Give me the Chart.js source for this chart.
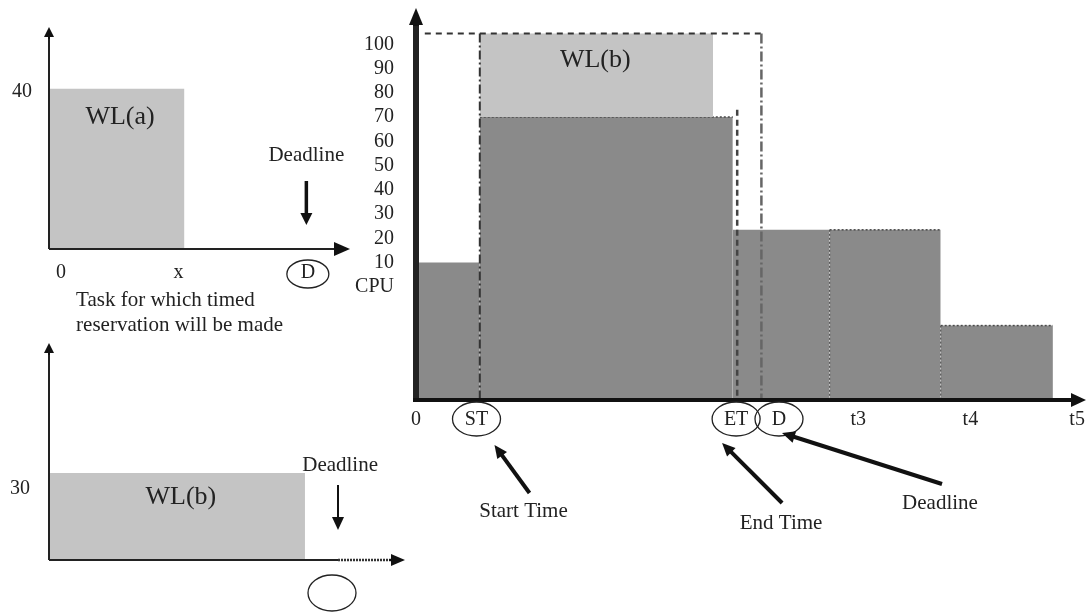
<!DOCTYPE html>
<html>
<head>
<meta charset="utf-8">
<script src="https://cdn.jsdelivr.net/npm/chart.js@4.4.1/dist/chart.umd.min.js"></script>
<style>
  html, body { margin: 0; padding: 0; background: #fff; overflow: hidden; }
  #page { position: relative; width: 1087px; height: 612px; }
  canvas { position: absolute; }
</style>
</head>
<body>
<div id="page">
  <canvas id="chartA" width="370" height="340" style="left:0;top:0"></canvas>
  <canvas id="chartB" width="420" height="282" style="left:0;top:330px"></canvas>
  <canvas id="chartMain" width="747" height="612" style="left:340px;top:0"></canvas>
</div>
<script>
// ---- main chart: CPU reservation over time ----
const timeTicks = [0, 5.5, 29.1, 33.0, 40.2, 50.4, 60.1];
const timeTickLabels = ["0", "ST", "ET", "D", "t3", "t4", "t5"];
const cpuTicks = [0, 10, 20, 30, 40, 50, 60, 70, 80, 90, 100];
const cpuTickLabels = ["CPU", "10", "20", "30", "40", "50", "60", "70", "80", "90", "100"];
const blockStart = [0, 5.8, 28.8, 37.6, 47.7];
const blockEnd = [5.8, 28.8, 37.6, 47.7, 57.9];
const blockCpu = [10, 70, 23.5, 23.5, -16];
const wlbRange = [5.8, 27.0];
const wlbCpu = [70, 104.5];      // base, top
const startTime = 5.8;
const endTime = 29.2;
const endTimeTop = 73;
const deadline = 31.4;

// ---- WL(a) small chart ----
const aTicks = [0.4, 4.3, 8.6];
const aTickLabels = ["0", "x", "D"];
const aCpuTicks = [40];
const aRange = [0, 4.5];
const aCpu = 40.8;
const aDeadline = 8.55;

// ---- WL(b) small chart ----
const bTicks = [9.42];
const bTickLabels = [""];
const bCpuTicks = [30];
const bRange = [0, 8.52];
const bCpu = 36.8;
const bDeadline = 9.62;

const FONT = "Liberation Serif";
const INK = "#222";
const DARK = "#8a8a8a";
const LIGHT = "#c4c4c4";
const NONE = "rgba(0,0,0,0)";

function line(ctx, x1, y1, x2, y2, w, color, dash) {
    ctx.save();
    ctx.strokeStyle = color;
    ctx.lineWidth = w;
    ctx.setLineDash(dash || []);
    ctx.beginPath();
    ctx.moveTo(x1, y1);
    ctx.lineTo(x2, y2);
    ctx.stroke();
    ctx.restore();
}

function arrow(ctx, x1, y1, x2, y2, w, len, half) {
    let a = Math.atan2(y2 - y1, x2 - x1);
    let c = Math.cos(a), s = Math.sin(a);
    line(ctx, x1, y1, x2 - c * len * 0.7, y2 - s * len * 0.7, w, "#111");
    ctx.save();
    ctx.fillStyle = "#111";
    ctx.beginPath();
    ctx.moveTo(x2, y2);
    ctx.lineTo(x2 - len * c + half * s, y2 - len * s - half * c);
    ctx.lineTo(x2 - len * c - half * s, y2 - len * s + half * c);
    ctx.closePath();
    ctx.fill();
    ctx.restore();
}

function ellipse(ctx, x, y, rx, ry) {
    ctx.save();
    ctx.strokeStyle = INK;
    ctx.lineWidth = 1.3;
    ctx.beginPath();
    ctx.ellipse(x, y, rx, ry, 0, 0, Math.PI * 2);
    ctx.stroke();
    ctx.restore();
}

function text(ctx, str, x, y, size, align) {
    ctx.save();
    ctx.font = size + "px \"" + FONT + "\"";
    ctx.fillStyle = INK;
    ctx.textAlign = align || "center";
    ctx.textBaseline = "middle";
    ctx.fillText(str, x, y);
    ctx.restore();
}

function block(range, top, color, base) {
    return {
        data: [{ x: range[0], y: top }, { x: range[1], y: top }],
        fill: base === undefined ? "start" : { value: base },
        backgroundColor: color,
        borderColor: NONE,
        borderWidth: 1,
        pointRadius: 0
    };
}

function axisX(ticks, labels, max, height, pad) {
    return {
        type: "linear", min: 0, max: max,
        grid: { display: false, drawTicks: false }, border: { display: false },
        afterBuildTicks: s => { s.ticks = ticks.map(v => ({ value: v })); },
        afterFit: s => { s.height = height; s.paddingLeft = 0; s.paddingRight = 0; },
        ticks: {
            callback: (v, i) => labels[i], autoSkip: false, maxRotation: 0,
            padding: pad, color: INK, font: { family: FONT, size: 20, lineHeight: 1.2 }
        }
    };
}

function axisY(ticks, labels, min, max, width, pad) {
    return {
        type: "linear", min: min, max: max,
        grid: { display: false, drawTicks: false }, border: { display: false },
        afterBuildTicks: s => { s.ticks = ticks.map(v => ({ value: v })); },
        afterFit: s => { s.width = width; s.paddingTop = 0; s.paddingBottom = 0; },
        ticks: {
            callback: (v, i) => labels[i], autoSkip: false,
            padding: pad, color: INK, font: { family: FONT, size: 20, lineHeight: 1.2 }
        }
    };
}

function baseOptions(padding) {
    return {
        responsive: false, animation: false, events: [],
        layout: { padding: padding },
        plugins: { legend: { display: false }, tooltip: { enabled: false } }
    };
}

// small-chart y axis with arrow head
function smallAxes(ctx, area) {
    line(ctx, area.left, area.bottom, area.left, area.top + 8, 2, INK);
    arrow(ctx, area.left, area.top + 12, area.left, area.top, 2, 10, 5);
}

// ---------- main chart ----------
let mainData = [block(wlbRange, wlbCpu[1], LIGHT, wlbCpu[0])];
blockStart.forEach((s, i) => {
    let ds = block([s, blockEnd[i]], blockCpu[i], DARK);
    if (i === 1 || i >= 3) {
        ds.borderColor = "#4a4a4a";
        ds.borderWidth = 1.5;
        ds.borderDash = [2, 2];
    }
    mainData.push(ds);
});

let mainOptions = baseOptions({ top: 8, right: 0, bottom: 0, left: 0 });
mainOptions.scales = {
    x: axisX(timeTicks, timeTickLabels, 61, 212, 8),
    y: axisY(cpuTicks, cpuTickLabels, -46.7, 115, 76, 22)
};

new Chart(document.getElementById("chartMain"), {
    type: "line",
    data: { datasets: mainData },
    options: mainOptions,
    plugins: [{
        id: "mainExtras",
        afterDatasetsDraw(chart) {
            let ctx = chart.ctx, xs = chart.scales.x, ys = chart.scales.y, area = chart.chartArea;
            let bottom = area.bottom;
            let topY = ys.getPixelForValue(wlbCpu[1]);

            // reservation frame and time markers
            line(ctx, xs.getPixelForValue(0.8), topY, xs.getPixelForValue(deadline), topY, 2, "#333", [6, 5]);
            line(ctx, xs.getPixelForValue(startTime), topY, xs.getPixelForValue(startTime), bottom, 2, "#333", [9, 3, 2, 3]);
            line(ctx, xs.getPixelForValue(endTime), ys.getPixelForValue(endTimeTop), xs.getPixelForValue(endTime), bottom, 2.5, "#444", [6, 4]);
            line(ctx, xs.getPixelForValue(deadline), topY, xs.getPixelForValue(deadline), bottom, 2.5, "#666", [10, 3, 2, 3]);

            // dotted separators between later blocks
            [3, 4].forEach(i => {
                let x = xs.getPixelForValue(blockStart[i]);
                line(ctx, x, ys.getPixelForValue(blockCpu[i]), x, bottom, 1.2, "#555", [2, 2]);
            });

            // axes
            line(ctx, area.left, bottom, area.left, area.top + 12, 6, INK);
            arrow(ctx, area.left, area.top + 18, area.left, area.top, 6, 17, 7);
            line(ctx, area.left - 3, bottom, area.right - 10, bottom, 4, "#111");
            arrow(ctx, area.right - 16, bottom, area.right - 1, bottom, 4, 15, 7);

            // circled tick labels
            let labelY = bottom + 19;
            [1, 2, 3].forEach(i => ellipse(ctx, xs.getPixelForValue(timeTicks[i]), labelY, 24, 17));

            // callouts: tick index, text, arrow tail, arrow head, text centre (offsets from tick / axis)
            let callouts = [
                [1, "Start Time", [53, 93], [18, 45], [47, 111]],
                [2, "End Time", [46, 103], [-14, 43], [45, 123]],
                [3, "Deadline", [163, 84], [3, 33], [161, 103]]
            ];
            callouts.forEach(c => {
                let tx = xs.getPixelForValue(timeTicks[c[0]]);
                arrow(ctx, tx + c[2][0], bottom + c[2][1], tx + c[3][0], bottom + c[3][1], 4, 13, 6);
                text(ctx, c[1], tx + c[4][0], bottom + c[4][1], 21);
            });

            text(ctx, "WL(b)", xs.getPixelForValue(16.3), ys.getPixelForValue(93.5), 26);
        }
    }]
});

// ---------- WL(a) ----------
let aOptions = baseOptions({ top: 27, right: 20, bottom: 0, left: 0 });
aOptions.scales = {
    x: axisX(aTicks, aTickLabels, 10, 91, 12),
    y: axisY(aCpuTicks, ["40"], 0, 56.5, 49, 17)
};

new Chart(document.getElementById("chartA"), {
    type: "line",
    data: { datasets: [block(aRange, aCpu, LIGHT)] },
    options: aOptions,
    plugins: [{
        id: "aExtras",
        afterDatasetsDraw(chart) {
            let ctx = chart.ctx, xs = chart.scales.x, ys = chart.scales.y, area = chart.chartArea;
            smallAxes(ctx, area);
            line(ctx, area.left, area.bottom, area.right - 12, area.bottom, 2, INK);
            arrow(ctx, area.right - 16, area.bottom, area.right, area.bottom, 2, 16, 7);

            ellipse(ctx, xs.getPixelForValue(aTicks[2]), area.bottom + 25, 21, 14);

            let dx = xs.getPixelForValue(aDeadline);
            arrow(ctx, dx, ys.getPixelForValue(17.3), dx, ys.getPixelForValue(6.1), 3.5, 12, 6);
            text(ctx, "Deadline", dx, ys.getPixelForValue(23.7), 21);
            text(ctx, "WL(a)", xs.getPixelForValue(2.36), ys.getPixelForValue(33.6), 26);

            let tx = xs.getPixelForValue(0.9);
            text(ctx, "Task for which timed", tx, area.bottom + 51, 21, "left");
            text(ctx, "reservation will be made", tx, area.bottom + 76, 21, "left");
        }
    }]
});

// ---------- WL(b) ----------
let bOptions = baseOptions({ top: 13, right: 15, bottom: 0, left: 0 });
bOptions.scales = {
    x: axisX(bTicks, bTickLabels, 11.85, 52, 21),
    y: axisY(bCpuTicks, ["30"], 0, 91.7, 49, 19)
};

new Chart(document.getElementById("chartB"), {
    type: "line",
    data: { datasets: [block(bRange, bCpu, LIGHT)] },
    options: bOptions,
    plugins: [{
        id: "bExtras",
        afterDatasetsDraw(chart) {
            let ctx = chart.ctx, xs = chart.scales.x, ys = chart.scales.y, area = chart.chartArea;
            let dx = xs.getPixelForValue(bDeadline);
            smallAxes(ctx, area);
            line(ctx, area.left, area.bottom, dx, area.bottom, 2, INK);
            line(ctx, dx, area.bottom, area.right - 12, area.bottom, 2.5, "#333", [2, 1]);
            arrow(ctx, area.right - 16, area.bottom, area.right, area.bottom, 2, 14, 6);

            ellipse(ctx, xs.getPixelForValue(bTicks[0]), area.bottom + 33, 24, 18);

            arrow(ctx, dx, ys.getPixelForValue(31.7), dx, ys.getPixelForValue(12.7), 2, 13, 6);
            text(ctx, "Deadline", xs.getPixelForValue(9.69), ys.getPixelForValue(40.1), 21);
            text(ctx, "WL(b)", xs.getPixelForValue(4.39), ys.getPixelForValue(26.6), 26);
        }
    }]
});
</script>
</body>
</html>
